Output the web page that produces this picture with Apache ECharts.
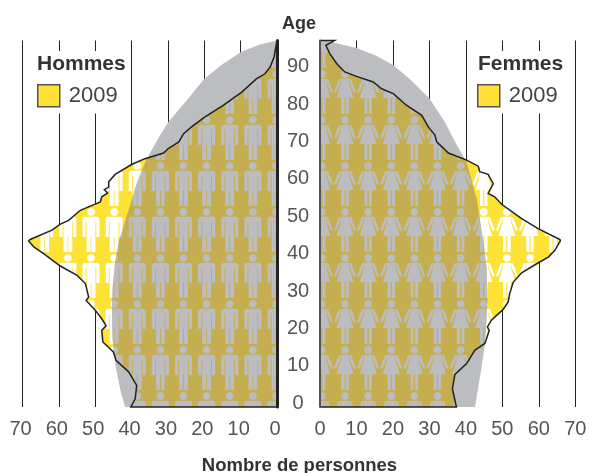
<!DOCTYPE html>
<html>
<head>
<meta charset="utf-8">
<style>
    html, body { margin: 0; padding: 0; background: #fff; }
    #chart { width: 590px; height: 473px; }
</style>
<script src="https://cdn.jsdelivr.net/npm/echarts@6/dist/echarts.min.js"></script>
</head>
<body>
<div id="chart"></div>
<script>
const ageTicks = [0, 10, 20, 30, 40, 50, 60, 70, 80, 90]

// 2009 outline (number of people, age)
const hommes = [0, 0.8, 1.9, 3.3, 5.6, 9.7, 14.7, 19.8, 23, 25.7, 27, 29.9, 31.2, 36.3, 39.9, 44.5, 46.3, 46.3, 47.5, 46.6, 48.2, 48.6, 54.1, 57.3, 59.6, 61.9, 67.9, 68.3, 66.9, 64.2, 59.6, 55, 52.7, 51.8, 52.5, 50, 48.2, 47, 48.2, 47.9, 45, 44.3, 40.8, 38.6, 39, 40.2]
const hommesAges = [97, 92.6, 89.9, 88.1, 86.8, 83.2, 79.7, 76.6, 74.3, 72.1, 69.9, 68.1, 66.9, 65.4, 63.9, 61.2, 59.2, 57.8, 57.1, 56.2, 55.2, 53.8, 51.6, 48.9, 47.9, 46.3, 43.8, 43.4, 41.8, 40, 36.7, 34.2, 32, 28.4, 27.5, 24.9, 22.6, 20.7, 19.5, 16.4, 13.7, 11.5, 8.4, 4.8, 1.2, -1]
const femmes = [0, 4, 1.6, 2.7, 4.6, 6.8, 10, 14.6, 16.9, 20.1, 23.7, 27.9, 29.7, 31.5, 32, 35.2, 40.2, 43.4, 43.8, 46.1, 47.5, 46.1, 47.9, 49.8, 55.3, 59.8, 65.8, 65.9, 64.4, 62.6, 59.4, 55.3, 53, 52, 51.6, 50.2, 47, 45.9, 46.4, 45.5, 45.2, 42.5, 40.2, 37, 36.3, 37.4]
const femmesAges = [97, 97, 95.7, 93.5, 90.8, 88.6, 87.4, 85.9, 84.1, 82.8, 79.7, 77, 73.9, 71.7, 69.9, 66.9, 65, 63.4, 61.9, 61.2, 58.7, 56.1, 55.2, 53.2, 49.4, 46.7, 43.8, 43.4, 40.9, 39.1, 37.3, 34.9, 32.4, 29.3, 27.1, 25.1, 22.2, 20.4, 19.5, 16.8, 16, 14.2, 10.6, 7.7, 3.9, -1]

// grey dome behind the outline
const domeHommes = [0, 4.7, 9.9, 14.8, 20, 24.8, 29.9, 32.6, 35.8, 38.5, 41, 43.4, 44.5, 45.2, 45.4, 45.2, 44.4, 43.2, 41.8]
const domeHommesAges = [97, 95.9, 93.9, 90.8, 86.8, 81, 75.2, 70.9, 65.4, 59, 51, 43.6, 38, 31, 25, 17, 10, 4, -1]
const domeFemmes = [0, 3.1, 10, 15.4, 20.1, 25, 30, 34.2, 37.8, 40.1, 41.5, 43, 44.7, 45.7, 45.9, 45.2, 43.8, 42.5]
const domeFemmesAges = [97, 96.6, 95, 92.9, 90.4, 86.4, 81.5, 75.2, 68.5, 64.7, 59.6, 54.3, 43.6, 36, 27, 15.5, 6.6, -1]

const YELLOW = '#ffe236'
const OLIVE = '#c5ae50'
const GREY = '#bcbdc0'
const LINE = '#222222'
const FONT = '"Liberation Sans", Arial, sans-serif'

const drawMan = (ctx) => {
    ctx.beginPath()
    ctx.arc(0, 0, 3.8, 0, Math.PI * 2)
    ctx.fill()
    ctx.beginPath()
    ctx.roundRect(-8.5, 4.8, 17, 5, 3)
    ctx.fill()
    ctx.fillRect(-8.5, 7.5, 3.2, 17.5)
    ctx.fillRect(5.3, 7.5, 3.2, 17.5)
    ctx.fillRect(-4.4, 7.5, 8.8, 17)
    ctx.fillRect(-4.4, 24, 4, 16)
    ctx.fillRect(0.4, 24, 4, 16)
}

const drawWoman = (ctx) => {
    const poly = (pts) => {
        ctx.beginPath()
        pts.forEach((p, i) => i ? ctx.lineTo(p[0], p[1]) : ctx.moveTo(p[0], p[1]))
        ctx.closePath()
        ctx.fill()
    }
    ctx.beginPath()
    ctx.arc(0, 0, 3.8, 0, Math.PI * 2)
    ctx.fill()
    poly([[-4.2, 4.8], [4.2, 4.8], [4.2, 10], [8.5, 24], [-8.5, 24], [-4.2, 10]])
    poly([[4.2, 4.8], [6.4, 5.6], [11, 18], [9, 19], [5, 10]])
    poly([[-4.2, 4.8], [-6.4, 5.6], [-11, 18], [-9, 19], [-5, 10]])
    ctx.fillRect(-3.8, 23.5, 3.2, 16.5)
    ctx.fillRect(0.6, 23.5, 3.2, 16.5)
}

// one tile holds 8 columns so the 23.125px spacing does not drift
const makeTile = (drawPerson, startX, bg, fg) => {
    const tile = document.createElement('canvas')
    tile.width = 185
    tile.height = 46
    const ctx = tile.getContext('2d')
    ctx.fillStyle = bg
    ctx.fillRect(0, 0, 185, 46)
    ctx.fillStyle = fg
    for (let k = -1; k <= 8; k++) {
        [28, -18].forEach((y) => {
            ctx.save()
            ctx.translate(startX + k * 23.125, y)
            drawPerson(ctx)
            ctx.restore()
        })
    }
    return tile
}

const pattern = (tile) => ({ image: tile, repeat: 'repeat' })

const pyramid = (name, gridIndex, values, ages, domeValues, domeAges, drawPerson, startX) => {
    const light = pattern(makeTile(drawPerson, startX, YELLOW, '#ffffff'))
    const dark = pattern(makeTile(drawPerson, startX, OLIVE, GREY))
    return {
        name: name,
        type: 'custom',
        xAxisIndex: gridIndex,
        yAxisIndex: gridIndex,
        animation: false,
        silent: true,
        clip: false,
        data: values.map((v, i) => [v, ages[i]]),
        encode: { x: 0, y: 1 },
        renderItem: (params, api) => {
            if (params.dataIndex > 0) return null
            const outline = values.map((v, i) => api.coord([v, ages[i]]))
            const corner = api.coord([0, -1])
            const top = api.coord([0, 97])
            const area = [top].concat(outline, [corner])
            const dome = domeValues.map((v, i) => api.coord([v, domeAges[i]])).concat([corner])
            return {
                type: 'group',
                children: [
                    { type: 'polygon', shape: { points: area }, style: { fill: light } },
                    { type: 'polygon', shape: { points: dome }, style: { fill: GREY, blend: 'multiply' } },
                    {
                        type: 'polygon',
                        shape: { points: area },
                        style: { fill: dark },
                        clipPath: { type: 'polygon', shape: { points: dome } }
                    },
                    {
                        type: 'polyline',
                        shape: { points: outline.concat([corner]) },
                        style: { fill: null, stroke: LINE, lineWidth: 1.5 }
                    }
                ]
            }
        }
    }
}

const legendFor = (left) => ({
    left: left,
    top: 51,
    orient: 'vertical',
    padding: [33, 13, 6, 7],
    backgroundColor: '#fff',
    itemWidth: 22,
    itemHeight: 22,
    itemGap: 0,
    selectedMode: false,
    textStyle: { fontFamily: FONT, fontSize: 22, color: '#444', padding: [0, 0, 0, 4] },
    data: [{
        name: '2009',
        icon: 'rect',
        itemStyle: { color: YELLOW, borderColor: '#555', borderWidth: 1.5 }
    }]
})

const xAxisFor = (gridIndex, inverse) => ({
    type: 'value',
    gridIndex: gridIndex,
    inverse: inverse,
    min: 0,
    max: 70,
    interval: 10,
    axisLine: { show: false },
    axisTick: { show: false },
    splitLine: { show: true, lineStyle: { color: LINE, width: 1 } },
    axisLabel: {
        margin: 12,
        padding: inverse ? [0, 4, 0, 0] : 0,
        fontFamily: FONT,
        fontSize: 20,
        color: '#555'
    }
})

const titleAt = (text, left, top, size, align) => ({
    text: text,
    left: left,
    top: top,
    padding: 0,
    textAlign: align,
    textStyle: { fontFamily: FONT, fontSize: size, fontWeight: 'bold', color: '#333' }
})

const myChart = echarts.init(document.getElementById('chart'))
myChart.setOption({
    animation: false,
    title: [
        titleAt('Hommes', 37, 54, 21, 'left'),
        titleAt('Femmes', 478, 54, 21, 'left'),
        titleAt('Age', 299, 15, 18, 'center'),
        titleAt('Nombre de personnes', 299.5, 456, 18.5, 'center')
    ],
    legend: [legendFor(30), legendFor(470)],
    grid: [
        { left: 22.5, width: 254.5, top: 40.5, height: 366.5 },
        { left: 320, width: 255.3, top: 40.5, height: 366.5 }
    ],
    xAxis: [xAxisFor(0, true), xAxisFor(1, false)],
    yAxis: [
        {
            type: 'value',
            gridIndex: 0,
            position: 'right',
            min: -1,
            max: 97,
            z: 10,
            axisLine: { show: true, onZero: false, lineStyle: { color: LINE, width: 3 } },
            axisTick: { show: false },
            splitLine: { show: false },
            axisLabel: { show: false }
        },
        {
            type: 'value',
            gridIndex: 1,
            position: 'left',
            min: -1,
            max: 97,
            z: 10,
            axisLine: { show: true, onZero: false, lineStyle: { color: '#555', width: 2 } },
            axisTick: { show: false },
            splitLine: { show: false },
            axisLabel: {
                customValues: ageTicks,
                margin: 22,
                align: 'center',
                padding: [2, 0, 0, 0],
                fontFamily: FONT,
                fontSize: 20,
                color: '#555'
            }
        }
    ],
    series: [
        pyramid('2009', 0, hommes, hommesAges, domeHommes, domeHommesAges, drawMan, 21.625),
        pyramid('2009', 1, femmes, femmesAges, domeFemmes, domeFemmesAges, drawWoman, 21.25)
    ]
})
</script>
</body>
</html>
